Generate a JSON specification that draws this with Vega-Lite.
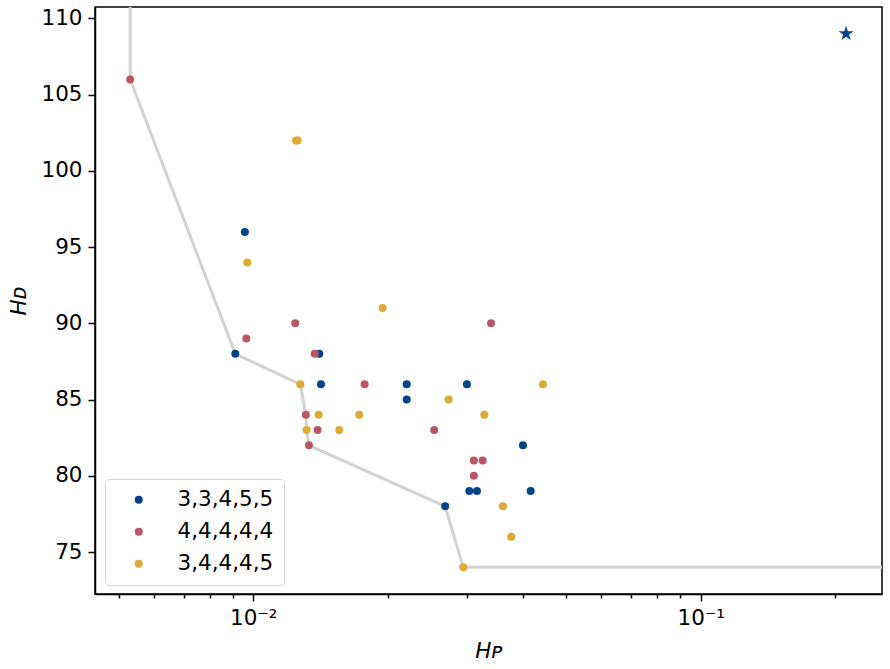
{
  "$schema": "https://vega.github.io/schema/vega-lite/v6.json",
  "width": 787,
  "height": 587,
  "autosize": {"type": "none"},
  "padding": {"left": 95, "top": 7, "right": 8, "bottom": 75},
  "background": "white",
  "config": {
    "view": {"stroke": "black", "strokeWidth": 1.5},
    "font": "DejaVu Sans",
    "axis": {
      "grid": false,
      "domainColor": "black",
      "domainWidth": 1.5,
      "tickColor": "black",
      "tickWidth": 1.5,
      "tickSize": 7,
      "labelFont": "DejaVu Sans",
      "labelFontSize": 21.5,
      "labelColor": "black",
      "labelPadding": 6,
      "titleFont": "DejaVu Sans",
      "titleFontSize": 21.5,
      "titleFontWeight": "normal",
      "titleFontStyle": "italic",
      "titleColor": "black"
    }
  },
  "datasets": {
    "pts": [
      {"hp": 0.00958, "hd": 96, "config": "3,3,4,5,5"},
      {"hp": 0.00912, "hd": 88, "config": "3,3,4,5,5"},
      {"hp": 0.01405, "hd": 88, "config": "3,3,4,5,5"},
      {"hp": 0.01417, "hd": 86, "config": "3,3,4,5,5"},
      {"hp": 0.02203, "hd": 86, "config": "3,3,4,5,5"},
      {"hp": 0.03003, "hd": 86, "config": "3,3,4,5,5"},
      {"hp": 0.02203, "hd": 85, "config": "3,3,4,5,5"},
      {"hp": 0.04007, "hd": 82, "config": "3,3,4,5,5"},
      {"hp": 0.0304, "hd": 79, "config": "3,3,4,5,5"},
      {"hp": 0.03162, "hd": 79, "config": "3,3,4,5,5"},
      {"hp": 0.04169, "hd": 79, "config": "3,3,4,5,5"},
      {"hp": 0.02685, "hd": 78, "config": "3,3,4,5,5"},
      {"hp": 0.00531, "hd": 106, "config": "4,4,4,4,4"},
      {"hp": 0.01241, "hd": 90, "config": "4,4,4,4,4"},
      {"hp": 0.034, "hd": 90, "config": "4,4,4,4,4"},
      {"hp": 0.00965, "hd": 89, "config": "4,4,4,4,4"},
      {"hp": 0.01372, "hd": 88, "config": "4,4,4,4,4"},
      {"hp": 0.01774, "hd": 86, "config": "4,4,4,4,4"},
      {"hp": 0.01311, "hd": 84, "config": "4,4,4,4,4"},
      {"hp": 0.01393, "hd": 83, "config": "4,4,4,4,4"},
      {"hp": 0.02538, "hd": 83, "config": "4,4,4,4,4"},
      {"hp": 0.01332, "hd": 82, "config": "4,4,4,4,4"},
      {"hp": 0.03113, "hd": 81, "config": "4,4,4,4,4"},
      {"hp": 0.03256, "hd": 81, "config": "4,4,4,4,4"},
      {"hp": 0.03113, "hd": 80, "config": "4,4,4,4,4"},
      {"hp": 0.01246, "hd": 102, "config": "3,4,4,4,5"},
      {"hp": 0.01257, "hd": 102, "config": "3,4,4,4,5"},
      {"hp": 0.0097, "hd": 94, "config": "3,4,4,4,5"},
      {"hp": 0.01946, "hd": 91, "config": "3,4,4,4,5"},
      {"hp": 0.01274, "hd": 86, "config": "3,4,4,4,5"},
      {"hp": 0.04441, "hd": 86, "config": "3,4,4,4,5"},
      {"hp": 0.02733, "hd": 85, "config": "3,4,4,4,5"},
      {"hp": 0.014, "hd": 84, "config": "3,4,4,4,5"},
      {"hp": 0.01725, "hd": 84, "config": "3,4,4,4,5"},
      {"hp": 0.03284, "hd": 84, "config": "3,4,4,4,5"},
      {"hp": 0.01316, "hd": 83, "config": "3,4,4,4,5"},
      {"hp": 0.01557, "hd": 83, "config": "3,4,4,4,5"},
      {"hp": 0.03614, "hd": 78, "config": "3,4,4,4,5"},
      {"hp": 0.03772, "hd": 76, "config": "3,4,4,4,5"},
      {"hp": 0.02947, "hd": 74, "config": "3,4,4,4,5"}
    ],
    "front": [
      {"i": 0, "hp": 0.00531, "hd": 130},
      {"i": 1, "hp": 0.00531, "hd": 106},
      {"i": 2, "hp": 0.00912, "hd": 88},
      {"i": 3, "hp": 0.01274, "hd": 86},
      {"i": 4, "hp": 0.01311, "hd": 84},
      {"i": 5, "hp": 0.01316, "hd": 83},
      {"i": 6, "hp": 0.01332, "hd": 82},
      {"i": 7, "hp": 0.02685, "hd": 78},
      {"i": 8, "hp": 0.02947, "hd": 74},
      {"i": 9, "hp": 2, "hd": 74}
    ],
    "star": [
      {"hp": 0.2113, "hd": 109}
    ]
  },
  "encoding": {
    "x": {
      "field": "hp",
      "type": "quantitative",
      "scale": {"type": "log", "domain": [0.00443, 0.2542], "nice": false, "zero": false},
      "axis": {
        "title": "Hᴘ",
        "values": [0.005, 0.006, 0.007, 0.008, 0.009, 0.01, 0.02, 0.03, 0.04, 0.05, 0.06, 0.07, 0.08, 0.09, 0.1, 0.2],
        "labelExpr": "datum.value == 0.01 ? '10⁻²' : (datum.value == 0.1 ? '10⁻¹' : '')",
        "labelOverlap": false,
        "labelFlush": false,
        "tickSize": {"condition": {"test": "datum.value == 0.01 || datum.value == 0.1", "value": 7}, "value": 4},
        "titlePadding": 12
      }
    },
    "y": {
      "field": "hd",
      "type": "quantitative",
      "scale": {"domain": [72.25, 110.75], "nice": false, "zero": false},
      "axis": {
        "title": "Hᴅ",
        "values": [75, 80, 85, 90, 95, 100, 105, 110],
        "titlePadding": 10
      }
    }
  },
  "layer": [
    {
      "data": {"name": "front"},
      "mark": {"type": "line", "color": "#d3d3d3", "strokeWidth": 3, "clip": true},
      "encoding": {"order": {"field": "i", "type": "quantitative"}}
    },
    {
      "data": {"name": "pts"},
      "mark": {"type": "point", "filled": true, "shape": "circle", "size": 64, "opacity": 1},
      "encoding": {
        "color": {
          "field": "config",
          "type": "nominal",
          "scale": {"domain": ["3,3,4,5,5", "4,4,4,4,4", "3,4,4,4,5"], "range": ["#004488", "#BB5566", "#DDAA33"]},
          "legend": {
            "title": null,
            "orient": "none",
            "legendX": 10,
            "legendY": 472,
            "padding": 10,
            "fillColor": "white",
            "strokeColor": "#d5d5d5",
            "cornerRadius": 4,
            "symbolType": "circle",
            "symbolSize": 64,
            "symbolStrokeWidth": 0,
            "symbolOpacity": 1,
            "symbolOffset": 13,
            "labelOffset": 28,
            "labelFont": "DejaVu Sans",
            "labelFontSize": 21.5,
            "labelColor": "black",
            "rowPadding": 9
          }
        }
      }
    },
    {
      "data": {"name": "star"},
      "mark": {"type": "point", "filled": true, "shape": "M0,-1 L0.2245,-0.309 L0.9511,-0.309 L0.3633,0.118 L0.5878,0.809 L0,0.382 L-0.5878,0.809 L-0.3633,0.118 L-0.9511,-0.309 L-0.2245,-0.309 Z", "size": 250, "color": "#004488", "opacity": 1}
    }
  ]
}
